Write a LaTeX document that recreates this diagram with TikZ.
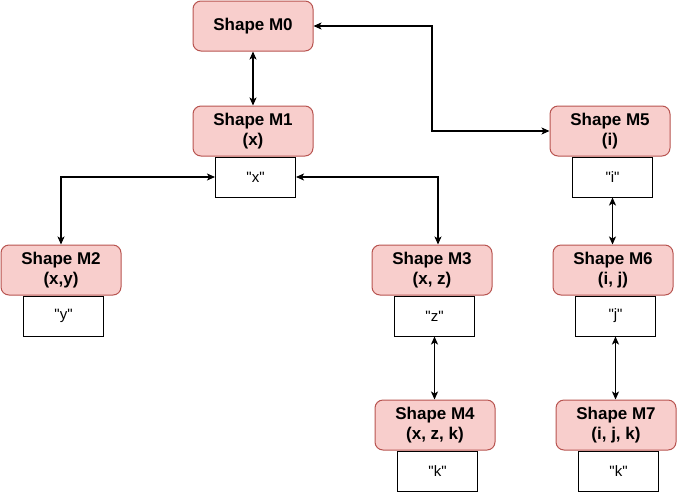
\documentclass[tikz,border=0pt]{standalone}
\usepackage{fontspec}
\setmainfont{Liberation Sans}
\usetikzlibrary{arrows.meta}
\definecolor{shapefill}{HTML}{F8CECC}
\definecolor{shapeline}{HTML}{B85450}
\newcommand{\qv}[1]{\textquotedbl#1\textquotedbl}

\begin{document}
\begin{tikzpicture}[x=1pt,y=-1pt,line width=1.1pt]
\useasboundingbox (0,0) rectangle (677,491);
\begin{scope}[every node/.style={rectangle,rounded corners=8pt,draw=shapeline,fill=shapefill,
              line width=1pt,minimum width=120pt,minimum height=50pt,inner sep=0pt,align=center,
              font=\fontsize{17}{20.5}\selectfont\bfseries}]
    \node (m0) at (253,26) {Shape M0};
    \node (m1) at (253,131) {Shape M1\\(x)};
    \node (m2) at (61,270) {Shape M2\\(x,y)};
    \node (m3) at (432,270) {Shape M3\\(x, z)};
    \node (m4) at (435,425) {Shape M4\\(x, z, k)};
    \node (m5) at (610,131) {Shape M5\\(i)};
    \node (m6) at (613,270) {Shape M6\\(i, j)};
    \node (m7) at (616,425) {Shape M7\\(i, j, k)};
\end{scope}

\begin{scope}[every node/.style={rectangle,draw,line width=1pt,minimum width=80pt,minimum height=40pt,
              anchor=north,xshift=2.5pt,font=\fontsize{15}{18}\selectfont}]
    \node (v1) at (m1.south) {\qv{x}};
    \node (v2) at (m2.south) {\qv{y}};
    \node (v3) at (m3.south) {\qv{z}};
    \node (v4) at (m4.south) {\qv{k}};
    \node (v5) at (m5.south) {\qv{i}};
    \node (v6) at (m6.south) {\qv{j}};
    \node (v7) at (m7.south) {\qv{k}};
\end{scope}

\begin{scope}[>={Stealth[length=8pt,width=7pt,inset=2pt]}]
    \draw [<->] (m0) -- (m1);
    \draw [<->] (m0.east) -| (432,131) -- (m5.west);
    \draw [<->] (v1.west) -| (m2.north);
    \draw [<->] (v1.east) -| ([xshift=6pt]m3.north);
    \draw [<->] (v3.south) -- (v3.south |- m4.north);
    \draw [<->] (v5.south) -- (v5.south |- m6.north);
    \draw [<->] (v6.south) -- (v6.south |- m7.north);
\end{scope}
\end{tikzpicture}
\end{document}
